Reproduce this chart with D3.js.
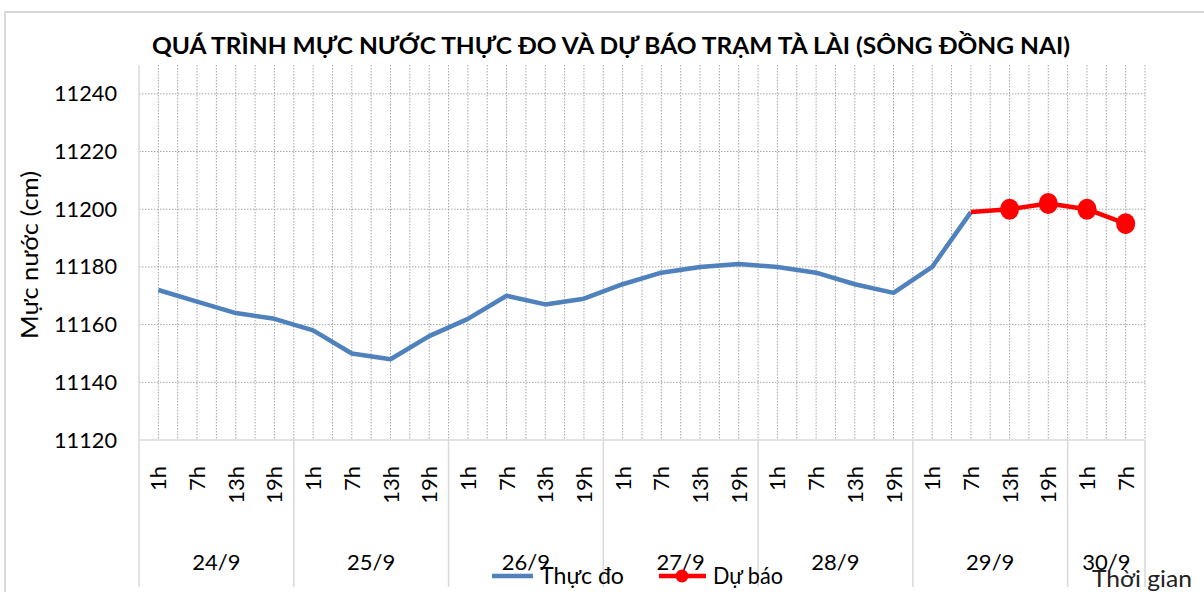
<!DOCTYPE html>
<html>
<head>
<meta charset="utf-8">
<script src="https://cdn.jsdelivr.net/npm/d3@7/dist/d3.min.js"></script>
<style>
  html, body { margin: 0; padding: 0; background: #ffffff; }
  svg { display: block; }
  text { font-family: Lato, "Open Sans", sans-serif; }
</style>
</head>
<body>
<svg id="chart" width="1204" height="592"></svg>
<script>
// ---- Data ----
const titleText = "QUÁ TRÌNH MỰC NƯỚC THỰC ĐO VÀ DỰ BÁO TRẠM TÀ LÀI (SÔNG ĐỒNG NAI)";
const yAxisTitle = "Mực nước (cm)";
const xAxisTitle = "Thời gian";
const days = ["24/9", "25/9", "26/9", "27/9", "28/9", "29/9", "30/9"];
const categoryHours = ["1h","7h","13h","19h", "1h","7h","13h","19h", "1h","7h","13h","19h",
                       "1h","7h","13h","19h", "1h","7h","13h","19h", "1h","7h","13h","19h",
                       "1h","7h"];
const categoryDays = ["24/9","24/9","24/9","24/9", "25/9","25/9","25/9","25/9",
                      "26/9","26/9","26/9","26/9", "27/9","27/9","27/9","27/9",
                      "28/9","28/9","28/9","28/9", "29/9","29/9","29/9","29/9",
                      "30/9","30/9"];
const observed = [11172, 11168, 11164, 11162, 11158, 11150, 11148, 11156,
                  11162, 11170, 11167, 11169, 11174, 11178, 11180, 11181,
                  11180, 11178, 11174, 11171, 11180, 11199, null, null, null, null];
const forecast = [null, null, null, null, null, null, null, null,
                  null, null, null, null, null, null, null, null,
                  null, null, null, null, null, 11199, 11200, 11202, 11200, 11195];
const forecastMarkers = [false, false, false, false, false, false, false, false,
                         false, false, false, false, false, false, false, false,
                         false, false, false, false, false, false, true, true, true, true];
const yTicks = [11120, 11140, 11160, 11180, 11200, 11220, 11240];
const yDomain = [11120, 11250];
const legendNames = ["Thực đo", "Dự báo"];

// ---- Layout ----
const svg = d3.select("#chart");
const plot = { left: 139, right: 1145, top: 65, bottom: 440 };
const gridColor = "#a6a6a6";
const axisColor = "#d9d9d9";
const blue = "#4f81bd";
const red = "#ff0000";

const idx = d3.range(categoryHours.length);
const x = d3.scaleBand().domain(idx).range([plot.left, plot.right]).padding(0);
const bw = x.bandwidth();
const cx = i => x(i) + bw / 2;
const y = d3.scaleLinear().domain(yDomain).range([plot.bottom, plot.top]);

// outer chart border
svg.append("rect").attr("x", 5).attr("y", 12).attr("width", 1210).attr("height", 600)
  .attr("fill", "#fff").attr("stroke", "#d9d9d9").attr("stroke-width", 2);

// title
svg.append("text").attr("x", 611).attr("y", 54)
  .attr("text-anchor", "middle").attr("font-size", 23).attr("font-weight", "bold")
  .attr("fill", "#000").attr("textLength", 918).attr("lengthAdjust", "spacingAndGlyphs")
  .text(titleText);

// vertical dotted gridlines at every half category
const vGrid = [];
idx.forEach(i => { if (i > 0) vGrid.push(x(i)); vGrid.push(cx(i)); });
vGrid.push(plot.right);
svg.append("g").selectAll("line").data(vGrid).join("line")
  .attr("x1", d => d).attr("x2", d => d)
  .attr("y1", plot.top).attr("y2", plot.bottom)
  .attr("stroke", gridColor).attr("stroke-width", 1).attr("stroke-dasharray", "1.5,1.5");

// horizontal dotted gridlines
svg.append("g").selectAll("line").data(yTicks.filter(t => t > yDomain[0])).join("line")
  .attr("x1", plot.left).attr("x2", plot.right)
  .attr("y1", d => y(d)).attr("y2", d => y(d))
  .attr("stroke", gridColor).attr("stroke-width", 1).attr("stroke-dasharray", "1.5,1.5");

// y axis
const yAxis = d3.axisLeft(y).tickValues(yTicks).tickSize(0).tickPadding(22).tickFormat(d3.format("d"));
const gy = svg.append("g").attr("transform", `translate(${plot.left},0)`).call(yAxis);
gy.select(".domain").remove();
gy.selectAll("text").attr("font-size", 22).attr("fill", "#000").attr("font-family", "Lato, sans-serif")
  .attr("textLength", 63).attr("lengthAdjust", "spacingAndGlyphs");
svg.append("line").attr("x1", plot.left).attr("x2", plot.left).attr("y1", plot.top).attr("y2", 587)
  .attr("stroke", axisColor).attr("stroke-width", 1.5);

// x axis line
svg.append("line").attr("x1", plot.left).attr("x2", plot.right).attr("y1", plot.bottom).attr("y2", plot.bottom)
  .attr("stroke", axisColor).attr("stroke-width", 1.5);

// hour labels via axis
const xAxis = d3.axisBottom(x).tickSize(0).tickFormat(i => categoryHours[i]);
const gx = svg.append("g").attr("transform", `translate(0,${plot.bottom})`).call(xAxis);
gx.select(".domain").remove();
gx.selectAll("text")
  .attr("font-size", 22).attr("fill", "#000").attr("font-family", "Lato, sans-serif")
  .attr("text-anchor", "end").attr("dy", null).attr("y", 0)
  .attr("transform", "translate(8,26) rotate(-90)");

// day group separators and labels
const groups = days.map(d => {
  const ids = idx.filter(i => categoryDays[i] === d);
  return { day: d, start: x(ids[0]), end: x(ids[ids.length - 1]) + bw };
});
svg.append("g").selectAll("line").data(groups.slice(1).map(g => g.start).concat([plot.right])).join("line")
  .attr("x1", d => d).attr("x2", d => d).attr("y1", plot.bottom).attr("y2", 587)
  .attr("stroke", axisColor).attr("stroke-width", 1.5);
svg.append("g").selectAll("text").data(groups).join("text")
  .attr("x", g => (g.start + g.end) / 2).attr("y", 570)
  .attr("text-anchor", "middle").attr("font-size", 22).attr("fill", "#000")
  .text(g => g.day);

// y axis title
svg.append("text").attr("transform", "translate(38,255) rotate(-90)")
  .attr("text-anchor", "middle").attr("font-size", 23).attr("fill", "#000")
  .attr("textLength", 168).attr("lengthAdjust", "spacingAndGlyphs")
  .text(yAxisTitle);

// lines
const line = d3.line().defined(d => d.v != null).x(d => cx(d.i)).y(d => y(d.v));
svg.append("path").datum(observed.map((v, i) => ({ v, i })))
  .attr("d", line).attr("fill", "none").attr("stroke", blue).attr("stroke-width", 4.5)
  .attr("stroke-linejoin", "round");
svg.append("path").datum(forecast.map((v, i) => ({ v, i })))
  .attr("d", line).attr("fill", "none").attr("stroke", red).attr("stroke-width", 4.5)
  .attr("stroke-linejoin", "round");
svg.append("g").selectAll("ellipse")
  .data(forecast.map((v, i) => ({ v, i })).filter(d => d.v != null && forecastMarkers[d.i]))
  .join("ellipse")
  .attr("cx", d => cx(d.i)).attr("cy", d => y(d.v)).attr("rx", 9.5).attr("ry", 10.5)
  .attr("fill", red);

// legend
const lg = svg.append("g");
lg.append("line").attr("x1", 492).attr("x2", 533).attr("y1", 576).attr("y2", 576)
  .attr("stroke", blue).attr("stroke-width", 4.5);
lg.append("text").attr("x", 540).attr("y", 584).attr("font-size", 23).attr("fill", "#000")
  .attr("textLength", 84).attr("lengthAdjust", "spacingAndGlyphs").text(legendNames[0]);
lg.append("line").attr("x1", 659).attr("x2", 706).attr("y1", 576).attr("y2", 576)
  .attr("stroke", red).attr("stroke-width", 4.5);
lg.append("circle").attr("cx", 682).attr("cy", 576).attr("r", 6.5).attr("fill", red);
lg.append("text").attr("x", 713).attr("y", 584).attr("font-size", 23).attr("fill", "#000")
  .attr("textLength", 70).attr("lengthAdjust", "spacingAndGlyphs").text(legendNames[1]);

// x axis title
svg.append("text").attr("x", 1092).attr("y", 587).attr("font-size", 24).attr("fill", "#222")
  .attr("textLength", 100).attr("lengthAdjust", "spacingAndGlyphs").text(xAxisTitle);
</script>
</body>
</html>
